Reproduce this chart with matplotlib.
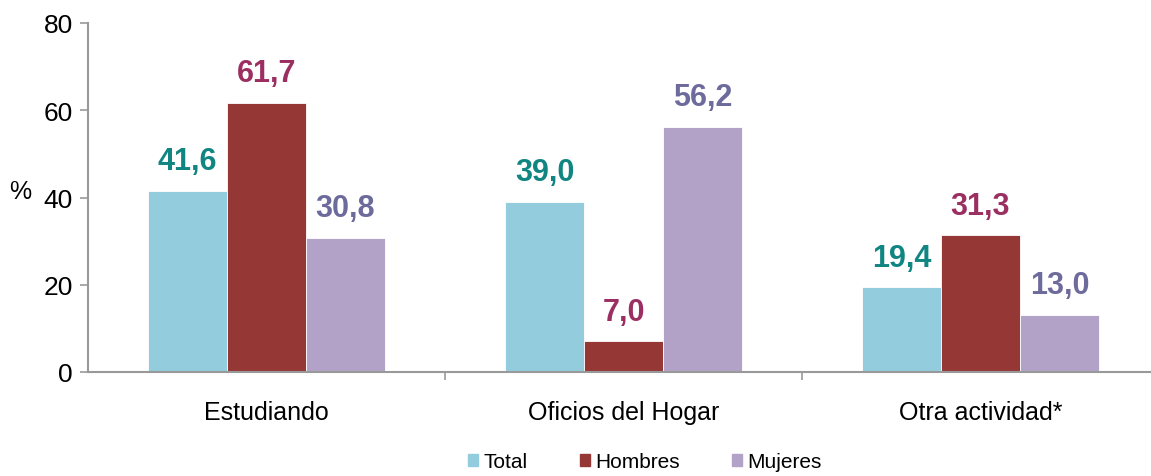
import numpy as np
import matplotlib
matplotlib.use('Agg')
import matplotlib.pyplot as plt
from matplotlib.patches import Patch

categories = ['Estudiando', 'Oficios del Hogar', 'Otra actividad*']
series_names = ['Total', 'Hombres', 'Mujeres']
total = [41.6, 39.0, 19.4]
hombres = [61.7, 7.0, 31.3]
mujeres = [30.8, 56.2, 13.0]

bar_colors = ['#93CDDD', '#953735', '#B3A2C7']
label_colors = ['#108582', '#9C2F62', '#6D6A9C']

plt.rcParams['font.family'] = ['Liberation Sans', 'DejaVu Sans']

fig = plt.figure(figsize=(11.51, 4.77), dpi=100)
ax = fig.add_axes([88 / 1151, 1 - 373 / 477, 1071 / 1151, 349 / 477])

x = np.arange(len(categories))
w = 0.221
for i, vals in enumerate([total, hombres, mujeres]):
    pos = x + (i - 1) * w
    ax.bar(pos, vals, width=w, color=bar_colors[i], label=series_names[i],
           edgecolor='white', linewidth=0.6)
    for p, v in zip(pos, vals):
        ax.text(p, v + 3.4, ('%.1f' % v).replace('.', ','), ha='center', va='bottom',
                fontsize=22, fontweight='bold', color=label_colors[i])

ax.set_xlim(-0.5, 2.5)
ax.set_ylim(0, 80)
ax.set_yticks([0, 20, 40, 60, 80])
ax.tick_params(axis='y', labelsize=19, length=6, width=1.2, color='#999999', pad=5)
ax.set_xticks(x)
ax.set_xticklabels(categories, fontsize=18)
ax.tick_params(axis='x', length=0, pad=20)
ax.set_xticks([0.5, 1.5], minor=True)
ax.tick_params(axis='x', which='minor', length=6, width=1.2, color='#999999')

for s in ['top', 'right']:
    ax.spines[s].set_visible(False)
for s in ['left', 'bottom']:
    ax.spines[s].set_color('#999999')
    ax.spines[s].set_linewidth(1.5)

fig.text(20 / 1151, 1 - 192 / 477, '%', fontsize=18, ha='center', va='center')

handles = [Patch(color=c) for c in bar_colors]
fig.legend(handles, series_names, loc='center', bbox_to_anchor=(645 / 1151, 1 - 463 / 477),
           ncol=3, frameon=False, fontsize=15, handlelength=0.5, handleheight=0.5,
           handletextpad=0.25, columnspacing=2.5)

fig.savefig('out.png', dpi=100)
